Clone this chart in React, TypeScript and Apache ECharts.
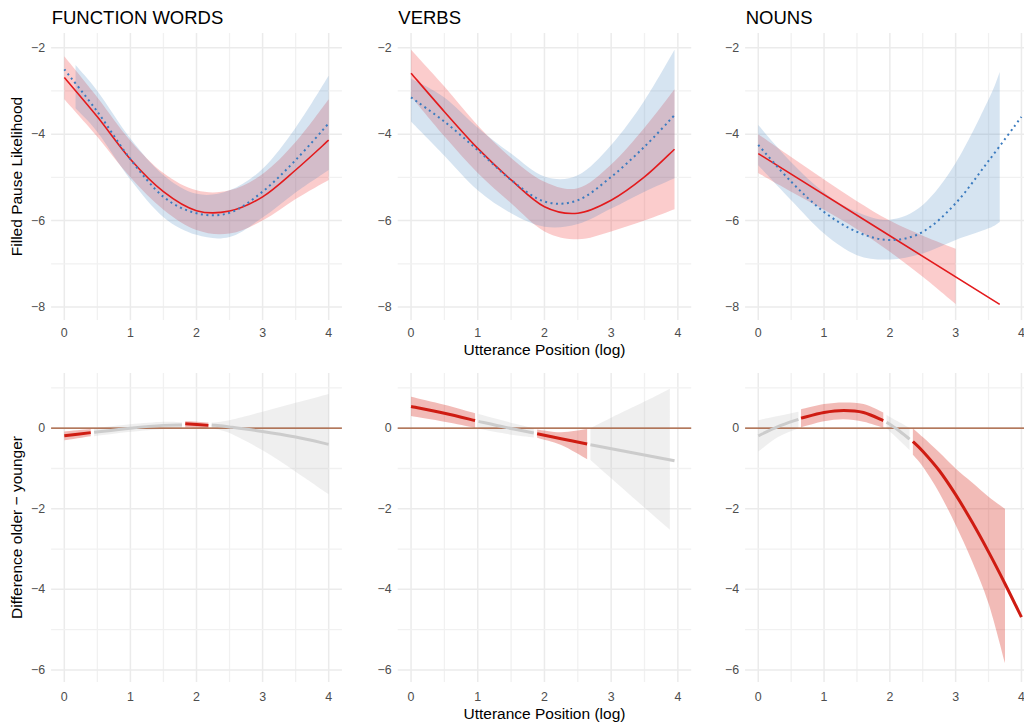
import React, { useEffect, useRef } from "react";
import * as echarts from "echarts";

const FONT = "'Liberation Sans', Arial, Helvetica, sans-serif";

// ---------- text ----------
const panelTitles = ["FUNCTION WORDS", "VERBS", "NOUNS"];
const topYLabel = "Filled Pause Likelihood";
const bottomYLabel = "Difference older \u2212 younger";
const xLabel = "Utterance Position (log)";

// ---------- ticks / grid ----------
const xTicks = [0, 1, 2, 3, 4];
const xGrid = [0, 0.5, 1, 1.5, 2, 2.5, 3, 3.5, 4];
const topYTicks = [-8, -6, -4, -2];
const topYGrid = [-8, -7, -6, -5, -4, -3, -2];
const bottomYTicks = [-6, -4, -2, 0];
const bottomYGrid = [-6, -5, -4, -3, -2, -1, 0, 1];

// ---------- top row: fitted likelihood (red = solid, blue = dotted) ----------
// FUNCTION WORDS
const fwRedFitX = [0, 0.5, 1, 1.5, 2, 2.5, 3, 3.5, 4];
const fwRedFit = [-2.69, -3.6, -4.58, -5.33, -5.77, -5.78, -5.45, -4.83, -4.14];
const fwRedBandX = [0, 0.5, 1, 1.5, 2, 2.5, 3, 3.5, 4];
const fwRedHi = [-2.2, -3.15, -4.15, -4.9, -5.3, -5.3, -4.92, -4.18, -3.19];
const fwRedLo = [-3.19, -4.06, -5.0, -5.75, -6.22, -6.3, -6.0, -5.5, -5.06];
const fwBlueFitX = [0, 0.5, 1, 1.5, 2, 2.5, 3, 3.5, 4];
const fwBlueFit = [-2.5, -3.48, -4.58, -5.45, -5.83, -5.82, -5.33, -4.6, -3.75];
const fwBlueBandX = [0.17, 0.5, 1, 1.5, 2, 2.5, 3, 3.5, 4];
const fwBlueHi = [-2.4, -3.0, -4.1, -4.95, -5.38, -5.3, -4.8, -3.85, -2.65];
const fwBlueLo = [-3.4, -3.95, -5.05, -5.92, -6.33, -6.38, -5.93, -5.35, -4.83];

// VERBS
const vbRedFitX = [0, 0.5, 1, 1.5, 2, 2.5, 3, 3.5, 3.95];
const vbRedFit = [-2.59, -3.48, -4.33, -5.06, -5.68, -5.83, -5.53, -4.99, -4.35];
const vbRedBandX = [0, 0.5, 1, 1.5, 2, 2.5, 3, 3.5, 3.95];
const vbRedHi = [-2.05, -2.9, -3.8, -4.55, -5.1, -5.25, -4.7, -3.85, -2.96];
const vbRedLo = [-3.13, -4.05, -4.9, -5.6, -6.25, -6.43, -6.25, -6.0, -5.74];
const vbBlueFitX = [0, 0.5, 1, 1.5, 2, 2.5, 3, 3.5, 3.95];
const vbBlueFit = [-3.15, -3.71, -4.37, -5.06, -5.56, -5.53, -4.99, -4.29, -3.56];
const vbBlueBandX = [0, 0.5, 1, 1.5, 2, 2.5, 3, 3.5, 3.95];
const vbBlueHi = [-2.71, -3.15, -3.85, -4.45, -4.98, -4.95, -4.25, -3.22, -2.05];
const vbBlueLo = [-3.71, -4.5, -5.3, -5.83, -6.14, -6.08, -5.72, -5.33, -5.02];

// NOUNS
const nnRedFitX = [0, 3.67];
const nnRedFit = [-4.45, -7.94];
const nnRedBandX = [0, 0.5, 1, 1.5, 2, 2.5, 3];
const nnRedHi = [-4.0, -4.53, -5.05, -5.55, -6.0, -6.35, -6.65];
const nnRedLo = [-4.9, -5.33, -5.75, -6.2, -6.72, -7.3, -7.93];
const nnBlueFitX = [0, 0.5, 1, 1.5, 2, 2.5, 3, 3.5, 4];
const nnBlueFit = [-4.25, -5.1, -5.8, -6.26, -6.45, -6.26, -5.6, -4.62, -3.6];
const nnBlueBandX = [0, 0.5, 1, 1.5, 2, 2.5, 3, 3.5, 3.67];
const nnBlueHi = [-3.79, -4.65, -5.35, -5.8, -5.98, -5.64, -4.67, -3.2, -2.56];
const nnBlueLo = [-4.72, -5.53, -6.3, -6.8, -6.9, -6.76, -6.45, -6.18, -6.03];

// ---------- bottom row: difference older - younger, split into segments ----------
// sig = interval excludes zero (drawn red), otherwise grey
const fwSegSig = [true, false, true, false];
const fwSegX = [[0, 0.4], [0.45, 1, 1.5, 1.78], [1.83, 2.18], [2.23, 2.5, 3, 3.5, 4]];
const fwSegFit = [[-0.19, -0.11], [-0.1, 0.0, 0.07, 0.08], [0.11, 0.07], [0.08, 0.03, -0.08, -0.22, -0.4]];
const fwSegBandX = [[0, 0.4], [0.45, 1, 1.5, 1.78], [1.83, 2.18], [2.23, 2.5, 3, 3.5, 4]];
const fwSegHi = [[-0.08, -0.02], [0.0, 0.1, 0.16, 0.15], [0.18, 0.14], [0.14, 0.2, 0.41, 0.63, 0.85]];
const fwSegLo = [[-0.3, -0.2], [-0.2, -0.09, -0.02, 0.0], [0.02, 0.0], [0.0, -0.12, -0.55, -1.08, -1.64]];

const vbSegSig = [true, false, true, false];
const vbSegX = [[0, 0.5, 0.96], [1.01, 1.42, 1.84], [1.89, 2.25, 2.64], [2.69, 3.95]];
const vbSegFit = [[0.54, 0.37, 0.19], [0.17, 0.02, -0.12], [-0.14, -0.26, -0.39], [-0.41, -0.81]];
const vbSegBandX = [[0, 0.5, 0.96], [1.01, 1.42, 1.84], [1.89, 2.25, 2.64], [2.69, 3, 3.5, 3.88]];
const vbSegHi = [[0.78, 0.58, 0.37], [0.35, 0.17, 0.0], [-0.03, -0.1, -0.02], [0.0, 0.26, 0.66, 0.98]];
const vbSegLo = [[0.3, 0.16, 0.01], [-0.01, -0.14, -0.23], [-0.24, -0.42, -0.77], [-0.79, -1.24, -1.97, -2.52]];

const nnSegSig = [false, true, false, true];
const nnSegX = [[0, 0.3, 0.61], [0.65, 1.0, 1.3, 1.6, 1.9], [1.95, 2.12, 2.3], [2.35, 2.5, 2.75, 3, 3.25, 3.5, 3.75, 4]];
const nnSegFit = [[-0.19, 0.04, 0.22], [0.25, 0.39, 0.44, 0.39, 0.19], [0.15, -0.04, -0.27], [-0.33, -0.57, -1.05, -1.65, -2.33, -3.07, -3.86, -4.69]];
const nnSegBandX = [[0, 0.3, 0.61], [0.65, 1.0, 1.3, 1.6, 1.9], [1.95, 2.12, 2.3], [2.35, 2.5, 2.75, 3, 3.25, 3.5, 3.75]];
const nnSegHi = [[0.2, 0.3, 0.41], [0.47, 0.6, 0.64, 0.6, 0.39], [0.33, 0.17, 0.0], [0.0, -0.22, -0.6, -1.0, -1.35, -1.7, -2.0]];
const nnSegLo = [[-0.58, -0.22, 0.0], [0.02, 0.17, 0.22, 0.16, 0.01], [0.0, -0.26, -0.54], [-0.66, -0.95, -1.6, -2.4, -3.3, -4.35, -5.83]];

// ---------- layout / style ----------
const CHART_WIDTH = 1048; // right-hand panel runs past the window edge
const CHART_HEIGHT = 724;
const PANEL_LEFT = [51.1, 397.7, 745.1];
const PANEL_WIDTH = [290.8, 293.5, 289.5];
const ROW_TOP = [33, 373];
const ROW_HEIGHT = [287, 309];
const X_RANGE = [-0.2, 4.2];
const TOP_Y_RANGE = [-8.3, -1.66];
const BOTTOM_Y_RANGE = [-6.3, 1.37];

const RED_LINE = "#e31a1c";
const BLUE_LINE = "#3b7bbf";
const RED_BAND = "rgba(240,40,40,0.24)";
const BLUE_BAND = "rgba(70,130,190,0.22)";
const SIG_LINE = "#cf1c12";
const NS_LINE = "#cccccc";
const SIG_BAND = "rgba(214,44,32,0.32)";
const NS_BAND = "rgba(190,190,190,0.25)";
const ZERO_LINE = "#a0522d";
const GRID_MAJOR = "#ebebeb";
const GRID_MINOR = "#f1f1f1";
const TICK_COLOR = "#4d4d4d";

const fmtMinus = (v: number) => (v < 0 ? "\u2212" + Math.abs(v) : String(v));

// Catmull-Rom cubic path through screen points
function curvePath(pts: number[][], start: "M" | "L"): string {
  let d = `${start}${pts[0][0]},${pts[0][1]}`;
  for (let i = 0; i < pts.length - 1; i++) {
    const p0 = pts[i - 1] || pts[i];
    const p1 = pts[i];
    const p2 = pts[i + 1];
    const p3 = pts[i + 2] || p2;
    const c1x = p1[0] + (p2[0] - p0[0]) / 6;
    const c1y = p1[1] + (p2[1] - p0[1]) / 6;
    const c2x = p2[0] - (p3[0] - p1[0]) / 6;
    const c2y = p2[1] - (p3[1] - p1[1]) / 6;
    d += ` C${c1x},${c1y} ${c2x},${c2y} ${p2[0]},${p2[1]}`;
  }
  return d;
}

// confidence ribbon between lo and hi
function bandSeries(g: number, xs: number[], lo: number[], hi: number[], color: string) {
  return {
    type: "custom",
    xAxisIndex: g,
    yAxisIndex: g,
    z: 2,
    silent: true,
    data: xs.map((x, i) => [x, lo[i], hi[i]]),
    encode: { x: 0, y: [1, 2] },
    renderItem: (params: any, api: any) => {
      if (params.dataIndex !== 0) return null;
      const up = xs.map((x, i) => api.coord([x, hi[i]]));
      const dn = xs.map((x, i) => api.coord([x, lo[i]])).reverse();
      const d = curvePath(up, "M") + " " + curvePath(dn, "L") + " Z";
      return { type: "path", shape: { pathData: d }, style: { fill: color, stroke: "none" } };
    },
  };
}

// fitted curve through the given points
function curveSeries(g: number, xs: number[], ys: number[], color: string, width: number, dash?: number[], z = 4) {
  return {
    type: "custom",
    xAxisIndex: g,
    yAxisIndex: g,
    z,
    silent: true,
    data: xs.map((x, i) => [x, ys[i]]),
    encode: { x: 0, y: 1 },
    renderItem: (params: any, api: any) => {
      if (params.dataIndex !== 0) return null;
      const pts = xs.map((x, i) => api.coord([x, ys[i]]));
      return {
        type: "path",
        shape: { pathData: curvePath(pts, "M") },
        style: { fill: "none", stroke: color, lineWidth: width, lineDash: dash || null, lineCap: "butt" },
      };
    },
  };
}

function zeroLineSeries(g: number) {
  return {
    type: "line",
    xAxisIndex: g,
    yAxisIndex: g,
    z: 3,
    silent: true,
    symbol: "none",
    showSymbol: false,
    data: [[X_RANGE[0], 0], [X_RANGE[1], 0]],
    lineStyle: { color: ZERO_LINE, width: 1.3 },
  };
}

function gridLineSeries(g: number, yGrid: number[]) {
  const items = [
    ...xGrid.map((v) => [0, v, Number.isInteger(v) ? 1 : 0]),
    ...yGrid.map((v) => [1, v, v % 2 === 0 ? 1 : 0]),
  ];
  return {
    type: "custom",
    xAxisIndex: g,
    yAxisIndex: g,
    z: 1,
    silent: true,
    data: items,
    renderItem: (params: any, api: any) => {
      const kind = api.value(0);
      const v = api.value(1);
      const major = api.value(2) === 1;
      const cs = params.coordSys;
      const style = { stroke: major ? GRID_MAJOR : GRID_MINOR, lineWidth: major ? 1.5 : 1.3 };
      if (kind === 0) {
        const px = api.coord([v, 0])[0];
        return { type: "line", shape: { x1: px, y1: cs.y, x2: px, y2: cs.y + cs.height }, style };
      }
      const py = api.coord([0, v])[1];
      return { type: "line", shape: { x1: cs.x, y1: py, x2: cs.x + cs.width, y2: py }, style };
    },
  };
}

function buildOption() {
  const grid: any[] = [];
  const xAxis: any[] = [];
  const yAxis: any[] = [];
  const series: any[] = [];

  for (let row = 0; row < 2; row++) {
    for (let col = 0; col < 3; col++) {
      grid.push({
        left: PANEL_LEFT[col],
        width: PANEL_WIDTH[col],
        top: ROW_TOP[row],
        height: ROW_HEIGHT[row],
        containLabel: false,
      });
      const g = row * 3 + col;
      const yr = row === 0 ? TOP_Y_RANGE : BOTTOM_Y_RANGE;
      xAxis.push({
        gridIndex: g,
        type: "value",
        min: X_RANGE[0],
        max: X_RANGE[1],
        axisLine: { show: false },
        axisTick: { show: false },
        splitLine: { show: false },
        axisLabel: {
          customValues: xTicks,
          formatter: fmtMinus,
          color: TICK_COLOR,
          fontSize: 12.4,
          fontFamily: FONT,
          margin: row === 0 ? 7 : 8.5,
        },
      });
      yAxis.push({
        gridIndex: g,
        type: "value",
        min: yr[0],
        max: yr[1],
        axisLine: { show: false },
        axisTick: { show: false },
        splitLine: { show: false },
        axisLabel: {
          customValues: row === 0 ? topYTicks : bottomYTicks,
          formatter: fmtMinus,
          color: TICK_COLOR,
          fontSize: 12.4,
          fontFamily: FONT,
          margin: 6,
        },
      });
      series.push(gridLineSeries(g, row === 0 ? topYGrid : bottomYGrid));
    }
  }

  // top row
  const topPanels = [
    [fwRedFitX, fwRedFit, fwRedBandX, fwRedHi, fwRedLo, fwBlueFitX, fwBlueFit, fwBlueBandX, fwBlueHi, fwBlueLo],
    [vbRedFitX, vbRedFit, vbRedBandX, vbRedHi, vbRedLo, vbBlueFitX, vbBlueFit, vbBlueBandX, vbBlueHi, vbBlueLo],
    [nnRedFitX, nnRedFit, nnRedBandX, nnRedHi, nnRedLo, nnBlueFitX, nnBlueFit, nnBlueBandX, nnBlueHi, nnBlueLo],
  ];
  topPanels.forEach((p, g) => {
    const [rfx, rf, rbx, rhi, rlo, bfx, bf, bbx, bhi, blo] = p;
    series.push(bandSeries(g, rbx, rlo, rhi, RED_BAND));
    series.push(bandSeries(g, bbx, blo, bhi, BLUE_BAND));
    series.push(curveSeries(g, rfx, rf, RED_LINE, 1.6));
    series.push(curveSeries(g, bfx, bf, BLUE_LINE, 2, [2, 3.5], 5));
  });

  // bottom row
  const bottomPanels = [
    [fwSegSig, fwSegX, fwSegFit, fwSegBandX, fwSegHi, fwSegLo],
    [vbSegSig, vbSegX, vbSegFit, vbSegBandX, vbSegHi, vbSegLo],
    [nnSegSig, nnSegX, nnSegFit, nnSegBandX, nnSegHi, nnSegLo],
  ] as any[];
  bottomPanels.forEach((p: any, col: number) => {
    const g = 3 + col;
    const [sig, xs, fit, bx, hi, lo] = p;
    sig.forEach((s: boolean, i: number) => {
      series.push(bandSeries(g, bx[i], lo[i], hi[i], s ? SIG_BAND : NS_BAND));
    });
    series.push(zeroLineSeries(g));
    sig.forEach((s: boolean, i: number) => {
      series.push(curveSeries(g, xs[i], fit[i], s ? SIG_LINE : NS_LINE, 3));
    });
  });

  const textStyle = (text: string, size: number, color: string, align: string) => ({
    text,
    fontSize: size,
    fontFamily: FONT,
    fill: color,
    textAlign: align,
    textVerticalAlign: "middle",
  });

  const graphic: any[] = [];
  panelTitles.forEach((t, col) => {
    graphic.push({ type: "text", x: PANEL_LEFT[col] + 0.6, y: 17.5, style: textStyle(t, 18.5, "#000", "left") });
  });
  graphic.push({ type: "text", x: 16, y: 176.5, rotation: Math.PI / 2, style: textStyle(topYLabel, 15.5, "#000", "center") });
  graphic.push({ type: "text", x: 16, y: 527.5, rotation: Math.PI / 2, style: textStyle(bottomYLabel, 15.5, "#000", "center") });
  const midX = PANEL_LEFT[1] + PANEL_WIDTH[1] / 2;
  graphic.push({ type: "text", x: midX, y: 349.5, style: textStyle(xLabel, 15.5, "#000", "center") });
  graphic.push({ type: "text", x: midX, y: 713, style: textStyle(xLabel, 15.5, "#000", "center") });

  return {
    animation: false,
    backgroundColor: "#ffffff",
    grid,
    xAxis,
    yAxis,
    series,
    graphic,
  };
}

export default function App() {
  const ref = useRef<HTMLDivElement>(null);
  useEffect(() => {
    if (!ref.current) return;
    const chart = echarts.init(ref.current, null, { renderer: "svg" });
    chart.setOption(buildOption() as any);
    return () => chart.dispose();
  }, []);
  return (
    <div
      ref={ref}
      style={{ position: "fixed", left: 0, top: 0, width: CHART_WIDTH, height: CHART_HEIGHT, background: "#fff" }}
    />
  );
}
